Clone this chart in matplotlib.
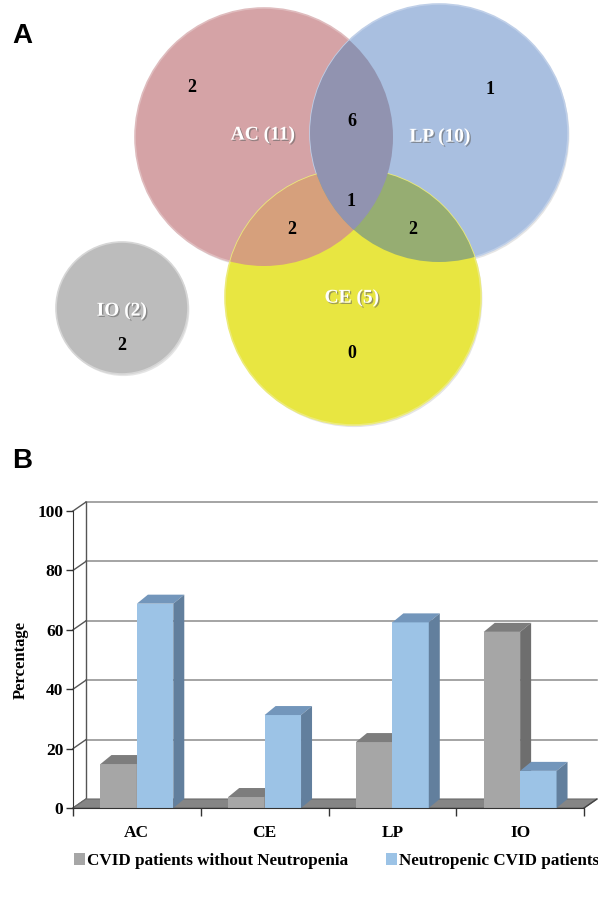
import numpy as np
import matplotlib.pyplot as plt
import matplotlib.patheffects as pe
from matplotlib.patches import Circle, Polygon

# ---- panel A: Venn diagram counts ----
set_names = ["AC", "LP", "CE", "IO"]
set_totals = [11, 10, 5, 2]
region_keys = ["AC", "LP", "AC&LP", "AC&LP&CE", "AC&CE", "LP&CE", "CE", "IO"]
region_counts = [2, 1, 6, 1, 2, 2, 0, 2]

# ---- panel B: percentages per manifestation ----
categories = ["AC", "CE", "LP", "IO"]
pct_no_neutropenia = [14.8, 3.7, 22.2, 59.3]
pct_neutropenic = [68.8, 31.3, 62.5, 12.5]
series_names = ["CVID patients without Neutropenia", "Neutropenic CVID patients"]
yticks = [0, 20, 40, 60, 80, 100]

W, H = 598, 902
SERIF = "Liberation Serif"
fig = plt.figure(figsize=(W / 100, H / 100), dpi=100)

# ================= panel A =================
axA = fig.add_axes([0, 1 - 440 / H, 1, 440 / H])
axA.set_xlim(0, W)
axA.set_ylim(440, 0)
axA.axis("off")

# circle layout in pixel units of the top panel
circ = {"AC": ((264, 137), 129), "LP": ((439, 133), 129),
        "CE": ((353, 297), 128), "IO": ((122, 308), 66)}
fills = {"AC": "#d5a3a6", "LP": "#a9bfe0", "CE": "#e8e641", "IO": "#bcbcbc"}
rims = {"AC": "#dfbcbe", "LP": "#bfcfe8", "CE": "#eceb7a", "IO": "#d6d6d6"}

shadow = [pe.withSimplePatchShadow(offset=(1, -1.5), shadow_rgbFace="#aaaaaa", alpha=0.3)]
for name in set_names:
    (cx, cy), r = circ[name]
    c = Circle((cx, cy), r, fc=fills[name], ec=rims[name], lw=1.2, zorder=1)
    c.set_path_effects(shadow)
    axA.add_patch(c)


def lens(a, b, color):
    (cx, cy), r = circ[a]
    p = Circle((cx, cy), r, fc=color, ec="none", zorder=2)
    axA.add_patch(p)
    (bx, by), br = circ[b]
    p.set_clip_path(Circle((bx, by), br, transform=axA.transData))


lens("CE", "AC", "#d6a07c")
lens("CE", "LP", "#96ad72")
lens("AC", "LP", "#9193b0")

label_pos = {"AC": (263, 135), "LP": (440, 137), "CE": (352, 298), "IO": (122, 311)}
white_fx = [pe.withSimplePatchShadow(offset=(1, -1), shadow_rgbFace="#666666", alpha=0.6)]
for name, tot in zip(set_names, set_totals):
    axA.text(*label_pos[name], f"{name} ({tot})", color="white", fontsize=14,
             fontweight="bold", family=SERIF, ha="center", va="center",
             path_effects=white_fx, zorder=5)

count_pos = {"AC": (192, 88), "LP": (490, 89), "AC&LP": (352, 121),
             "AC&LP&CE": (351, 201), "AC&CE": (292, 229), "LP&CE": (413, 230),
             "CE": (352, 353), "IO": (122, 345)}
for key, n in zip(region_keys, region_counts):
    axA.text(*count_pos[key], str(n), color="black", fontsize=13, fontweight="bold",
             family=SERIF, ha="center", va="center", zorder=5)

fig.text(12 / W, 1 - 43 / H, "A", fontsize=20, fontweight="bold",
         family="Liberation Sans", va="baseline")
fig.text(12 / W, 1 - 468 / H, "B", fontsize=20, fontweight="bold",
         family="Liberation Sans", va="baseline")

# ================= panel B =================
x0_px, x1_px, y0_px, y1_px = 73, 584, 808, 511
ax = fig.add_axes([x0_px / W, 1 - y0_px / H, (x1_px - x0_px) / W, (y0_px - y1_px) / H])
ax.set_xlim(-0.5, len(categories) - 0.5)
ax.set_ylim(0, 100)
ppx = (x1_px - x0_px) / len(categories)   # pixels per category
ppy = (y0_px - y1_px) / 100.0             # pixels per percent
dxw, dyw = 13 / ppx, 9 / ppy              # wall depth
dxb, dyb = 11 / ppx, 9 / ppy              # bar depth

xl, xr = -0.5, len(categories) - 0.5
grid_c = "#8c8c8c"
# floor
ax.add_patch(Polygon([(xl, 0), (xr, 0), (xr + dxw, dyw), (xl + dxw, dyw)],
                     fc="#858585", ec="#6a6a6a", lw=0.8, clip_on=False, zorder=1))
# back wall grid and side wall
for v in yticks[1:]:
    ax.plot([xl + dxw, xr + dxw], [v + dyw, v + dyw], color=grid_c, lw=1.1,
            clip_on=False, zorder=0.5)
for v in yticks:
    ax.plot([xl, xl + dxw], [v, v + dyw], color="#555555", lw=1, clip_on=False, zorder=0.5)
ax.plot([xl + dxw, xl + dxw], [dyw, 100 + dyw], color="#555555", lw=1, clip_on=False, zorder=0.5)
ax.plot([xr, xr + dxw], [0, dyw], color="#444444", lw=1, clip_on=False, zorder=2)

w = 0.285
x = np.arange(len(categories))


def add_depth(xs, vals, top_c, side_c):
    for xa, v in zip(xs, vals):
        ax.add_patch(Polygon([(xa, v), (xa + w, v), (xa + w + dxb, v + dyb), (xa + dxb, v + dyb)],
                             fc=top_c, ec="none", clip_on=False, zorder=3))
        ax.add_patch(Polygon([(xa + w, 0), (xa + w + dxb, dyb), (xa + w + dxb, v + dyb), (xa + w, v)],
                             fc=side_c, ec="none", clip_on=False, zorder=3))


ax.bar(x - w, pct_no_neutropenia, width=w, align="edge", color="#a6a6a6",
       label=series_names[0], zorder=3)
add_depth(x - w, pct_no_neutropenia, "#7d7d7d", "#6e6e6e")
ax.bar(x, pct_neutropenic, width=w, align="edge", color="#9cc3e6",
       label=series_names[1], zorder=3)
add_depth(x, pct_neutropenic, "#7396bb", "#627f9d")

for s in ["top", "right"]:
    ax.spines[s].set_visible(False)
for s in ["left", "bottom"]:
    ax.spines[s].set_color("#333333")
    ax.spines[s].set_zorder(4)
ax.set_yticks(yticks)
ax.set_yticklabels([str(t) for t in yticks], fontsize=12.5, fontweight="bold", family=SERIF)
ax.tick_params(axis="y", direction="out", length=5, width=1, pad=2, color="#333333")
ax.set_xticks(np.arange(len(categories) + 1) - 0.5)
ax.set_xticklabels([""] * (len(categories) + 1))
ax.set_xticks(x, minor=True)
ax.set_xticklabels(categories, minor=True, fontsize=12.5, fontweight="bold", family=SERIF)
ax.tick_params(axis="x", which="major", direction="out", length=6, width=1, color="#333333")
ax.tick_params(axis="x", which="minor", length=0, pad=12)
ax.set_facecolor("none")
ax.set_ylabel("Percentage", fontsize=12, fontweight="bold", family=SERIF)
ax.yaxis.set_label_coords((29 - x0_px) / (x1_px - x0_px), (y0_px - 660) / (y0_px - y1_px))

fig.legend(loc="center left", bbox_to_anchor=(74 / W, 1 - 861 / H), ncol=2, frameon=False,
           handlelength=0.65, handleheight=0.65, handletextpad=0.12, columnspacing=2.2,
           borderpad=0, borderaxespad=0,
           prop={"family": SERIF, "weight": "bold", "size": 12.3})

fig.savefig("out.png", dpi=100)
